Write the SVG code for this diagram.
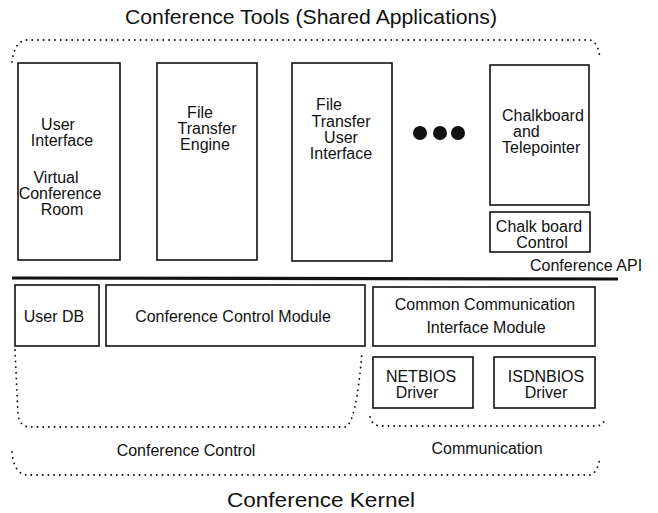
<svg xmlns="http://www.w3.org/2000/svg" width="658" height="513" viewBox="0 0 658 513">
<style>
.bg{fill:#ffffff}
.box{fill:none;stroke:#111;stroke-width:1.6}
.dot{fill:none;stroke:#111;stroke-width:1.8;stroke-linecap:round;stroke-dasharray:0.1 5.6}
.t{font-family:"Liberation Sans",Arial,sans-serif;font-size:16px;fill:#111}
.m{text-anchor:middle}
.big{font-family:"Liberation Sans",Arial,sans-serif;font-size:20px;fill:#111;text-anchor:middle}
.api{fill:none;stroke:#111;stroke-width:3.2}
</style>
<rect class="bg" x="0" y="0" width="658" height="513"/>
<text class="big" x="311" y="24" textLength="372" lengthAdjust="spacingAndGlyphs">Conference Tools (Shared Applications)</text>
<text class="big" x="321" y="507" textLength="188" lengthAdjust="spacingAndGlyphs">Conference Kernel</text>

<g id="regions">
<path class="dot" d="M12,62 Q14,42 26,40 L590,40 Q598,42 600,58"/>
<path class="dot" d="M12,452 Q14,473 26,475 L590,475 Q598,473 600,456"/>
<path class="dot" d="M15,350 L18,415 Q20,427 30,427 L345,427 Q356,425 362,352"/>
<path class="dot" d="M370,417 Q372,426 382,426 L598,426 Q604,424 605,419"/>
<text class="t m" x="186" y="456">Conference Control</text>
<text class="t m" x="487" y="454">Communication</text>
</g>

<g id="user-interface">
<rect class="box" x="18" y="63" width="102" height="197"/>
<text class="t m" x="58" y="130">User</text>
<text class="t m" x="62" y="146">Interface</text>
<text class="t m" x="56" y="183">Virtual</text>
<text class="t m" x="60" y="199">Conference</text>
<text class="t m" x="62" y="215">Room</text>
</g>

<g id="file-transfer-engine">
<rect class="box" x="157" y="63" width="100" height="197"/>
<text class="t m" x="200" y="118">File</text>
<text class="t m" x="207" y="134">Transfer</text>
<text class="t m" x="205" y="150">Engine</text>
</g>

<g id="file-transfer-user-interface">
<rect class="box" x="292" y="63" width="100" height="198"/>
<text class="t m" x="329" y="110">File</text>
<text class="t m" x="341" y="127">Transfer</text>
<text class="t m" x="341" y="143">User</text>
<text class="t m" x="341" y="159">Interface</text>
</g>

<g id="more">
<circle cx="420" cy="133" r="7" fill="#111"/>
<circle cx="440" cy="133" r="7" fill="#111"/>
<circle cx="458" cy="133" r="7" fill="#111"/>
</g>

<g id="chalkboard">
<rect class="box" x="490" y="65" width="99" height="140"/>
<text class="t" x="502" y="121">Chalkboard</text>
<text class="t" x="513" y="137">and</text>
<text class="t" x="502" y="153">Telepointer</text>
</g>

<g id="chalkboard-control">
<rect class="box" x="490" y="212" width="100" height="40"/>
<text class="t m" x="539" y="232">Chalk  board</text>
<text class="t m" x="542" y="248">Control</text>
</g>

<g id="conference-api">
<line class="api" x1="12" y1="278" x2="618" y2="279"/>
<text class="t" x="530" y="271">Conference API</text>
</g>

<g id="user-db">
<rect class="box" x="15" y="285" width="84" height="61"/>
<text class="t m" x="54" y="322">User DB</text>
</g>

<g id="conference-control-module">
<rect class="box" x="106" y="285" width="259" height="61"/>
<text class="t m" x="233" y="322">Conference Control Module</text>
</g>

<g id="common-communication">
<rect class="box" x="373" y="287" width="222" height="59"/>
<text class="t m" x="485" y="310">Common Communication</text>
<text class="t m" x="486" y="333">Interface Module</text>
</g>

<g id="netbios">
<rect class="box" x="373" y="357" width="100" height="51"/>
<text class="t m" x="421" y="382">NETBIOS</text>
<text class="t m" x="417" y="398">Driver</text>
</g>

<g id="isdnbios">
<rect class="box" x="494" y="357" width="101" height="51"/>
<text class="t m" x="546" y="382">ISDNBIOS</text>
<text class="t m" x="546" y="398">Driver</text>
</g>

<g id="connectors"></g>
</svg>
